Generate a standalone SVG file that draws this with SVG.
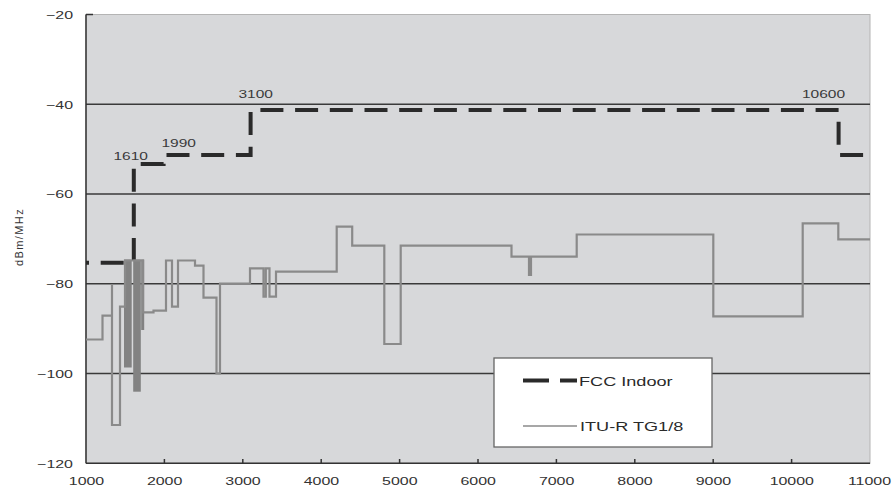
<svg xmlns="http://www.w3.org/2000/svg" width="893" height="488" viewBox="0 0 893 488">
<style>
  .lbl { font-family: "Liberation Sans", Arial, sans-serif; font-size: 11px; fill: #333; }
  .top { font-family: "Liberation Sans", Arial, sans-serif; font-size: 10.7px; fill: #3a3a3a; }
  .leg { font-family: "Liberation Sans", Arial, sans-serif; font-size: 12.5px; fill: #2a2a2a; }
  .grid { stroke: #3a3a3a; stroke-width: 1.4; fill: none; }
  .axis { stroke: #333; stroke-width: 1.5; fill: none; }
  .fcc { stroke: #2a2a2a; stroke-width: 4; fill: none; stroke-dasharray: 23 11.7; stroke-linejoin: miter; }
  .itu { stroke: #8a8a8a; stroke-width: 2.2; fill: none; stroke-linejoin: miter; }
  .blk { fill: #828282; }
</style>
<rect x="0" y="0" width="893" height="488" fill="#ffffff"/>
<g id="plot-area">
  <rect x="86" y="14.5" width="784" height="448.75" fill="#d7d8da" stroke="#b4b4b4" stroke-width="1"/>
  <line class="grid" x1="86" y1="104.25" x2="870" y2="104.25"/>
  <line class="grid" x1="86" y1="194" x2="870" y2="194"/>
  <line class="grid" x1="86" y1="283.75" x2="870" y2="283.75"/>
  <line class="grid" x1="86" y1="373.5" x2="870" y2="373.5"/>
  <line class="axis" x1="86" y1="14.5" x2="86" y2="463.25"/>
  <line class="axis" x1="86" y1="463.25" x2="870" y2="463.25"/>
  <line class="axis" x1="86" y1="14.5" x2="93" y2="14.5"/>
  <g class="axis" stroke-width="1.2">
    <line x1="164.4" y1="463" x2="164.4" y2="459"/>
    <line x1="242.8" y1="463" x2="242.8" y2="459"/>
    <line x1="321.2" y1="463" x2="321.2" y2="459"/>
    <line x1="399.6" y1="463" x2="399.6" y2="459"/>
    <line x1="478" y1="463" x2="478" y2="459"/>
    <line x1="556.4" y1="463" x2="556.4" y2="459"/>
    <line x1="634.8" y1="463" x2="634.8" y2="459"/>
    <line x1="713.2" y1="463" x2="713.2" y2="459"/>
    <line x1="791.6" y1="463" x2="791.6" y2="459"/>
  </g>
</g>
<g id="y-labels">
  <text class="lbl" text-anchor="end" transform="translate(73,19) scale(1.45,1)">−20</text>
  <text class="lbl" text-anchor="end" transform="translate(73,108.6) scale(1.45,1)">−40</text>
  <text class="lbl" text-anchor="end" transform="translate(73,198.3) scale(1.45,1)">−60</text>
  <text class="lbl" text-anchor="end" transform="translate(73,288) scale(1.45,1)">−80</text>
  <text class="lbl" text-anchor="end" transform="translate(73,377.8) scale(1.45,1)">−100</text>
  <text class="lbl" text-anchor="end" transform="translate(73,467.5) scale(1.45,1)">−120</text>
  <text class="lbl" text-anchor="middle" font-size="10.5" letter-spacing="1.4" transform="translate(23,237) rotate(-90)">dBm/MHz</text>
</g>
<g id="x-labels">
  <text class="lbl" text-anchor="middle" transform="translate(86.5,485) scale(1.45,1)">1000</text>
  <text class="lbl" text-anchor="middle" transform="translate(164.6,485) scale(1.45,1)">2000</text>
  <text class="lbl" text-anchor="middle" transform="translate(243,485) scale(1.45,1)">3000</text>
  <text class="lbl" text-anchor="middle" transform="translate(321.4,485) scale(1.45,1)">4000</text>
  <text class="lbl" text-anchor="middle" transform="translate(399.8,485) scale(1.45,1)">5000</text>
  <text class="lbl" text-anchor="middle" transform="translate(478.2,485) scale(1.45,1)">6000</text>
  <text class="lbl" text-anchor="middle" transform="translate(556.6,485) scale(1.45,1)">7000</text>
  <text class="lbl" text-anchor="middle" transform="translate(635,485) scale(1.45,1)">8000</text>
  <text class="lbl" text-anchor="middle" transform="translate(713.4,485) scale(1.45,1)">9000</text>
  <text class="lbl" text-anchor="middle" transform="translate(791.8,485) scale(1.45,1)">10000</text>
  <text class="lbl" text-anchor="middle" transform="translate(869.5,485) scale(1.45,1)">11000</text>
</g>
<g id="connectors">
  <path id="fcc-indoor" class="fcc" stroke-dashoffset="20" d="M86,262.7 H133.8 V163.9 H163.6 V155 H250.6 V110.1 H838.6 V155 H870"/>
  <g id="itu-r-tg1-8">
    <rect class="blk" x="124" y="259.5" width="7.7" height="108"/>
    <rect class="blk" x="133.2" y="259.5" width="7.6" height="132.2"/>
    <rect class="blk" x="141.2" y="259.5" width="3" height="70.5"/>
    <path class="itu" d="M86,339.5 H102.5 V315.7 H112 V284.5 V425 H120 V306.7 H125 V260.5 H143 V312.3 H153.5 V310.7 H166 V260.5 H172 V306.7 H178 V260.5 H195 V265.7 H203.5 V297.7 H216.5 V373.5 H220 V283.5 H250 V268.3 H263.5 V296.7 H265.8 V268.3 H269.5 V296.7 H276 V271.7 H336.7 V226.7 H352.2 V245.7 H384.3 V344 H400.7 V245.7 H511.5 V256.7 H529 V275 H531 V256.7 H576.7 V234.5 H713.3 V316.4 H802.7 V223.3 H838.3 V239.3 H870"/>
  </g>
</g>
<g id="freq-labels">
  <text class="top" transform="translate(113.5,159.5) scale(1.45,1)">1610</text>
  <text class="top" transform="translate(161.5,146.5) scale(1.45,1)">1990</text>
  <text class="top" transform="translate(238.5,98) scale(1.45,1)">3100</text>
  <text class="top" transform="translate(802,97.5) scale(1.45,1)">10600</text>
</g>
<g id="legend">
  <rect x="494" y="358" width="218" height="89" fill="#ffffff" stroke="#666" stroke-width="1.3"/>
  <line x1="523" y1="380.5" x2="549" y2="380.5" stroke="#2a2a2a" stroke-width="4"/>
  <line x1="560" y1="380.5" x2="577" y2="380.5" stroke="#2a2a2a" stroke-width="4"/>
  <text class="leg" transform="translate(579,385.5) scale(1.45,1)">FCC Indoor</text>
  <line x1="523" y1="426" x2="577" y2="426" stroke="#8a8a8a" stroke-width="1.6"/>
  <text class="leg" transform="translate(580,430.5) scale(1.45,1)">ITU-R TG1/8</text>
</g>
</svg>
